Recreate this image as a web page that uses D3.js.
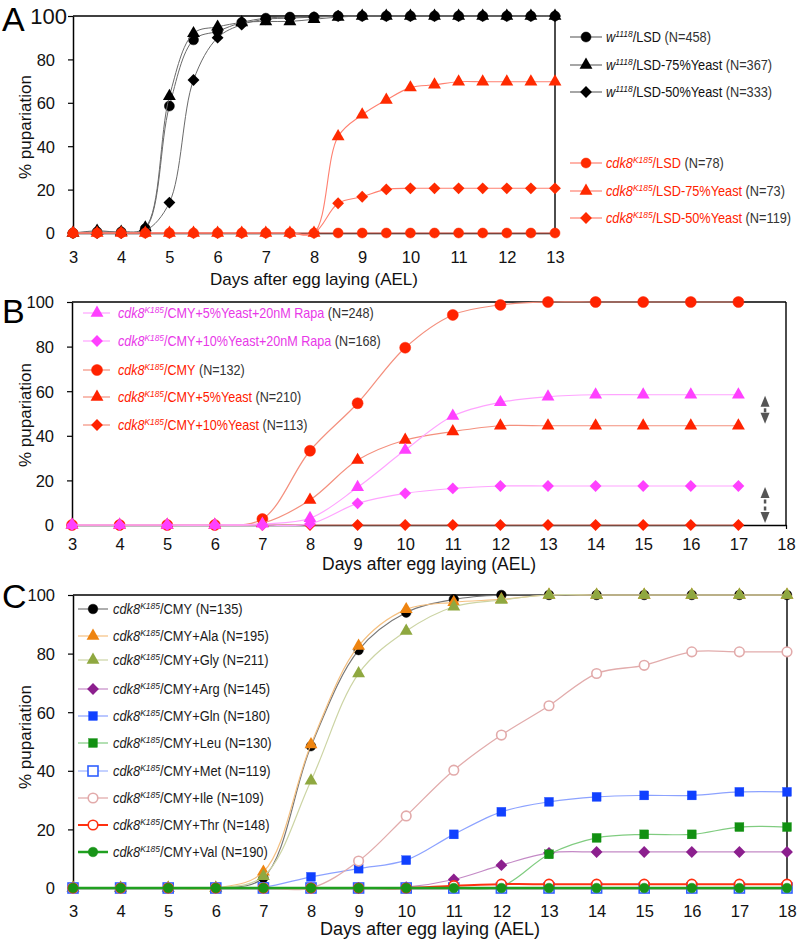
<!DOCTYPE html>
<html><head><meta charset="utf-8">
<script src="https://cdn.jsdelivr.net/npm/d3@7"></script>
<style>body{margin:0;background:#fff}svg{display:block}text{font-family:"Liberation Sans",Arial,Helvetica,sans-serif}</style>
</head><body><svg id="c" width="800" height="943"></svg>
<script>
// ---------- DATA ----------
const ticksY=[0,20,40,60,80,100];
// Panel A
const daysA=[3,3.5,4,4.5,5,5.5,6,6.5,7,7.5,8,8.5,9,9.5,10,10.5,11,11.5,12,12.5,13];
const ticksXA=[3,4,5,6,7,8,9,10,11,12,13];
const aW_LSD=[0,0.5,0.5,2,58.5,89,93,97,99,99.5,99.5,100,100,100,100,100,100,100,100,100,100];
const aW_75=[0,1,0.5,2.5,63,92,95,97,97.5,97.5,98.5,99.5,100,100,100,100,100,100,100,100,100];
const aW_50=[0,0,0,1,14,70.5,90,96,98.5,99,99.5,100,100,100,100,100,100,100,100,100,100];
const aC_LSD=[0,0,0,0,0,0,0,0,0,0,0,0,0,0,0,0,0,0,0,0,0];
const aC_75=[0,0,0,0,0,0,0,0,0,0,0,44.5,54.5,61.3,67,68.3,69.7,69.7,69.7,69.7,69.7];
const aC_50=[0,0,0,0,0,0,0,0,0,0,0,13.7,16.7,20.1,20.6,20.6,20.6,20.6,20.6,20.6,20.6];
const labelsA=[
 {pre:"w",sup:"1118",rest:"/LSD",n:"(N=458)"},
 {pre:"w",sup:"1118",rest:"/LSD-75%Yeast",n:"(N=367)"},
 {pre:"w",sup:"1118",rest:"/LSD-50%Yeast",n:"(N=333)"},
 {pre:"cdk8",sup:"K185",rest:"/LSD",n:"(N=78)"},
 {pre:"cdk8",sup:"K185",rest:"/LSD-75%Yeast",n:"(N=73)"},
 {pre:"cdk8",sup:"K185",rest:"/LSD-50%Yeast",n:"(N=119)"}];
// Panel B
const daysB=[3,4,5,6,7,8,9,10,11,12,13,14,15,16,17];
const ticksXB=[3,4,5,6,7,8,9,10,11,12,13,14,15,16,17,18];
const bCMY=[0,0,0,0,2.7,33.3,54.6,79.5,94.2,98.7,100,100,100,100,100];
const bY5=[0,0,0,0,0.8,11.2,29.1,38.1,41.9,44.5,44.5,44.5,44.5,44.5,44.5];
const bY10=[0,0,0,0,0,0,0,0,0,0,0,0,0,0,0];
const bY5R=[0,0,0,0,0.5,3,16.9,33.6,48.9,55,57.5,58.4,58.4,58.4,58.4];
const bY10R=[0,0,0,0,0,0.5,9.7,14.2,16.4,17.5,17.5,17.5,17.5,17.5,17.5];
const labelsB=[
 {pre:"cdk8",sup:"K185",rest:"/CMY+5%Yeast+20nM Rapa",n:"(N=248)"},
 {pre:"cdk8",sup:"K185",rest:"/CMY+10%Yeast+20nM Rapa",n:"(N=168)"},
 {pre:"cdk8",sup:"K185",rest:"/CMY",n:"(N=132)"},
 {pre:"cdk8",sup:"K185",rest:"/CMY+5%Yeast",n:"(N=210)"},
 {pre:"cdk8",sup:"K185",rest:"/CMY+10%Yeast",n:"(N=113)"}];
// Panel C
const daysC=[3,4,5,6,7,8,9,10,11,12,13,14,15,16,17,18];
const ticksXC=[3,4,5,6,7,8,9,10,11,12,13,14,15,16,17,18];
const cCMY=[0,0,0,0,3.5,48.4,81.2,94,98.5,100,100,100,100,100,100,100];
const cAla=[0,0,0,0,5.5,49,82.6,95.1,97.5,98.5,100,100,100,100,100,100];
const cGly=[0,0,0,0,4,36.6,73.2,87.7,96,98.3,100,100,100,100,100,100];
const cArg=[0,0,0,0,0,0,0,0.3,2.9,7.8,12,12.3,12.3,12.3,12.3,12.3];
const cGln=[0,0,0,0,0.3,3.8,6.6,9.5,18.3,26,29.4,31.1,31.6,31.6,32.8,32.8];
const cLeu=[0,0,0,0,0,0,0,0,0,0.5,11.5,17.1,18.3,18.3,20.8,20.8];
const cMet=[0,0,0,0,0,0,0,0,0,0,0,0,0,0,0,0];
const cIle=[0,0,0,0,0,0,9.2,24.6,40.2,52.2,62.2,73.2,76,80.6,80.6,80.6];
const cThr=[0,0,0,0,0,0,0,0,0.8,1.3,1.3,1.3,1.3,1.3,1.3,1.3];
const cVal=[0,0,0,0,0,0,0,0,0,0,0,0,0,0,0,0];
const aminoC=["","+Ala","+Gly","+Arg","+Gln","+Leu","+Met","+Ile","+Thr","+Val"];
const nC=["(N=135)","(N=195)","(N=211)","(N=145)","(N=180)","(N=130)","(N=119)","(N=109)","(N=148)","(N=190)"];

// ---------- DRAW ----------
const svg=d3.select("#c");

function marker(g,s,cx,cy){
  const sh=s.shape;
  if(sh==="circle"||sh==="ocircle"){
    g.append("circle").attr("cx",cx).attr("cy",cy).attr("r",s.r||5)
     .attr("fill",sh==="ocircle"?"#fff":s.fill).attr("stroke",s.fill).attr("stroke-width",sh==="ocircle"?1.6:0.5);
  } else if(sh==="square"||sh==="osquare"){
    const a=sh==="osquare"?10:9;
    g.append("rect").attr("x",cx-a/2).attr("y",cy-a/2).attr("width",a).attr("height",a)
     .attr("fill",sh==="osquare"?"#fff":s.fill).attr("stroke",s.fill).attr("stroke-width",sh==="osquare"?1.6:0.3);
  } else if(sh==="triangle"){
    g.append("path").attr("d",d3.symbol(d3.symbolTriangle,s.size||72)()).attr("transform",`translate(${cx},${cy})`).attr("fill",s.fill);
  } else if(sh==="diamond"){
    g.append("path").attr("d",d3.symbol(d3.symbolSquare,s.size||70)()).attr("transform",`translate(${cx},${cy}) rotate(45)`).attr("fill",s.fill);
  }
}

function legendRow(g,L,s,lab,yc){
  g.append("line").attr("x1",L.x0).attr("x2",L.x1).attr("y1",yc).attr("y2",yc).attr("stroke",s.line).attr("stroke-width",Math.max(1.2,s.lw));
  marker(g,s,L.xm,yc);
  const fs=L.fs;
  const t=g.append("g").attr("transform",`translate(${L.xt},${yc+fs*0.36}) scale(${L.sx},1)`)
    .append("text").attr("font-size",fs);
  const tc=s.tc||L.tc;
  t.append("tspan").attr("font-style","italic").attr("fill",tc).text(lab.pre);
  t.append("tspan").attr("font-style","italic").attr("font-size",fs*0.66).attr("dy",-fs*0.38).attr("fill",tc).text(lab.sup);
  t.append("tspan").attr("dy",fs*0.38).attr("fill",tc).text(lab.rest);
  t.append("tspan").attr("fill",L.nc).text(" "+lab.n);
}

function panel(o){
  const x=d3.scaleLinear().domain(o.xd).range(o.xr);
  const y=d3.scaleLinear().domain([0,100]).range(o.yr);
  const g=svg.append("g");
  // frame
  g.append("line").attr("x1",x(o.xd[0])).attr("x2",x(o.xd[1])).attr("y1",y(100)).attr("y2",y(100)).attr("stroke","#000").attr("stroke-width",1.4);
  g.append("line").attr("x1",x(o.xd[1])).attr("x2",x(o.xd[1])).attr("y1",y(100)).attr("y2",y(0)).attr("stroke","#000").attr("stroke-width",1.4);
  // axes
  const ya=g.append("g").attr("transform",`translate(${o.xr[0]},0)`)
    .call(d3.axisLeft(y).tickValues(ticksY).tickSize(5).tickSizeOuter(0).tickPadding(13));
  const xa=g.append("g").attr("transform",`translate(0,${o.yr[0]})`)
    .call(d3.axisBottom(x).tickValues(o.xt).tickSize(4).tickSizeOuter(0).tickFormat(d3.format("d")));
  [ya,xa].forEach(a=>{a.select(".domain").attr("stroke","#000").attr("stroke-width",1.5);
    a.selectAll(".tick line").attr("stroke","#000").attr("stroke-width",1.2);
    a.selectAll("text").attr("font-size",16.5).attr("fill","#111").attr("font-family",'"Liberation Sans",Arial,sans-serif');});
  ya.selectAll("text").attr("dy","0.36em");
  xa.selectAll("text").attr("y",o.xtb-o.yr[0]).attr("dy",0);
  if(o.big100){ya.selectAll(".tick").filter(d=>d===100).select("text").attr("font-size",22).attr("x",-6);}
  // titles
  g.append("text").attr("x",(o.xr[0]+o.xr[1])/2).attr("y",o.titleY).attr("text-anchor","middle").attr("font-size",o.titleFs).attr("fill","#111").text("Days after egg laying (AEL)");
  g.append("text").attr("transform",`translate(31,${o.ylabY}) rotate(-90)`).attr("text-anchor","middle").attr("font-size",17).attr("fill","#111").text("% pupariation");
  g.append("text").attr("x",2).attr("y",o.letterY).attr("font-size",34).attr("fill","#000").text(o.letter);
  // series lines
  const line=d3.line().x((d,i)=>x(o.days[i])).y(d=>y(d)).curve(d3.curveCatmullRom.alpha(0.5));
  o.series.forEach(s=>{
    g.append("path").attr("d",line(s.v)).attr("fill","none").attr("stroke",s.line).attr("stroke-width",s.lw);
    s.v.forEach((v,i)=>marker(g,s,x(o.days[i]),y(v)));
  });
  if(o.extra) o.extra(g,x,y);
  // legend
  o.series.forEach((s,i)=>legendRow(g,o.leg,s,o.labels[i],o.leg.ys[i]));
}

// Panel A
const blk={fill:"#000",line:"#6a6a6a",lw:1};
const red={fill:"#ff2a00",line:"#ff8070",lw:1.1,tc:"#ff2200"};
panel({
  letter:"A",letterY:31,xd:[3,13],xr:[73,555],yr:[233,16],xt:ticksXA,xtb:263,titleY:285,titleFs:17,ylabY:127,big100:true,
  days:daysA,labels:labelsA,
  series:[
    Object.assign({v:aW_LSD,shape:"circle"},blk),
    Object.assign({v:aW_75,shape:"triangle"},blk),
    Object.assign({v:aW_50,shape:"diamond"},blk),
    Object.assign({v:aC_LSD,shape:"circle"},red),
    Object.assign({v:aC_75,shape:"triangle"},red),
    Object.assign({v:aC_50,shape:"diamond"},red)],
  leg:{x0:570,x1:602,xm:586,xt:606,fs:14.5,sx:0.88,tc:"#111",nc:"#333",ys:[37,65,92,163,191,218]}
});

// Panel B
const rB={fill:"#ff2200",line:"#f4907e",lw:1.2,tc:"#ff1a00"};
const mB={fill:"#ff40ff",line:"#ffa4ff",lw:1.2,tc:"#e838e8"};
// draw order: red first, magenta on top; legend order differs
const seriesB=[
  Object.assign({v:bCMY,shape:"circle",r:5.5},rB),
  Object.assign({v:bY5,shape:"triangle"},rB),
  Object.assign({v:bY10,shape:"diamond"},rB),
  Object.assign({v:bY5R,shape:"triangle"},mB),
  Object.assign({v:bY10R,shape:"diamond"},mB)];
const labOrderB=[2,3,4,0,1];
panel({
  letter:"B",letterY:323,xd:[3,18],xr:[72,786],yr:[525,302],xt:ticksXB,xtb:550,titleY:570,titleFs:17.5,ylabY:415,
  days:daysB,labels:labOrderB.map(k=>labelsB[k]),
  series:seriesB,
  leg:{x0:83,x1:110,xm:97,xt:118,fs:14,sx:0.9,tc:"#ff1a00",nc:"#333",ys:[370,397,425,313,341]},
  extra:(g,x,y)=>{
    const ax=x(17.56);
    [[58.4,44.5],[17.5,0]].forEach(([a,b])=>{
      const y1=y(a)+1,y2=y(b)-2;
      g.append("path").attr("d",`M${ax},${y1}L${ax-4.5},${y1+11}L${ax+4.5},${y1+11}Z`).attr("fill","#555");
      g.append("path").attr("d",`M${ax},${y2}L${ax-4.5},${y2-11}L${ax+4.5},${y2-11}Z`).attr("fill","#555");
      g.append("line").attr("x1",ax).attr("x2",ax).attr("y1",y1+11).attr("y2",y2-11).attr("stroke","#555").attr("stroke-width",2.5).attr("stroke-dasharray","4,3").attr("stroke-dashoffset",-1.5);
    });
  }
});

// Panel C
const valsC=[cCMY,cAla,cGly,cArg,cGln,cLeu,cMet,cIle,cThr,cVal];
const styleC=[
  {shape:"circle",fill:"#000",line:"#777",lw:1.2},
  {shape:"triangle",fill:"#ee8410",line:"#f5c080",lw:1.2},
  {shape:"triangle",fill:"#8fa840",line:"#ccd4a4",lw:1.2},
  {shape:"diamond",fill:"#8c1f8e",line:"#c48ac6",lw:1.2},
  {shape:"square",fill:"#1040ff",line:"#8ca2ff",lw:1.2},
  {shape:"square",fill:"#119011",line:"#80cc80",lw:1.2},
  {shape:"osquare",fill:"#3060ff",line:"#9db2ff",lw:1.2},
  {shape:"ocircle",fill:"#e2aaaa",line:"#e2acac",lw:1.3},
  {shape:"ocircle",fill:"#ff3010",line:"#ff3010",lw:2},
  {shape:"circle",fill:"#189418",line:"#20a020",lw:2.5}];
panel({
  letter:"C",letterY:608,xd:[3,18],xr:[73,787],yr:[888,595],xt:ticksXC,xtb:917,titleY:935,titleFs:18,ylabY:737,
  days:daysC,
  labels:aminoC.map((a,i)=>({pre:"cdk8",sup:"K185",rest:"/CMY"+a,n:nC[i]})),
  series:valsC.map((v,i)=>Object.assign({v:v,r:4.8},styleC[i])),
  leg:{x0:78,x1:108,xm:93,xt:113,fs:14,sx:0.92,tc:"#1a1a1a",nc:"#1a1a1a",ys:[609,636,660,689,716,743,771,798,825,852]}
});
</script></body></html>
